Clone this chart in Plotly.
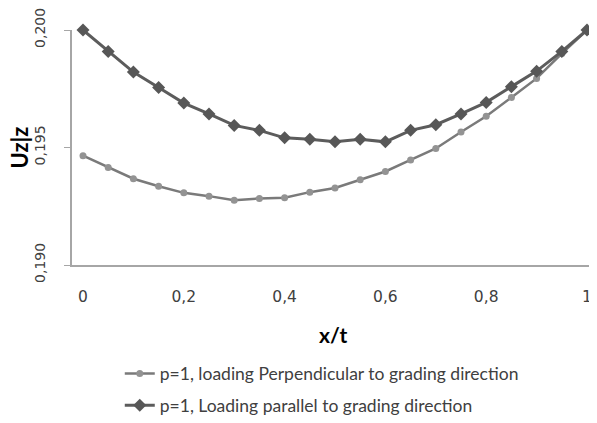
import plotly.graph_objects as go

x_t = [0, 0.05, 0.1, 0.15, 0.2, 0.25, 0.3, 0.35, 0.4, 0.45, 0.5,
       0.55, 0.6, 0.65, 0.7, 0.75, 0.8, 0.85, 0.9, 0.95, 1.0]
perpendicular = [0.19465, 0.19415, 0.19367, 0.19335, 0.19307, 0.19293, 0.19276,
                 0.19283, 0.19286, 0.19310, 0.19328, 0.19363, 0.19398, 0.19447,
                 0.19496, 0.19566, 0.19633, 0.19713, 0.19794, 0.19900, 0.20000]
parallel = [0.20000, 0.19909, 0.19821, 0.19755, 0.19689, 0.19643, 0.19594,
            0.19573, 0.19541, 0.19535, 0.19524, 0.19535, 0.19524, 0.19573,
            0.19597, 0.19643, 0.19692, 0.19759, 0.19825, 0.19909, 0.20000]
x_ticks = [0, 0.2, 0.4, 0.6, 0.8, 1.0]
y_ticks = [0.190, 0.195, 0.200]
name_perp = "p=1, loading Perpendicular to grading direction"
name_par = "p=1, Loading parallel to grading direction"
x_title = "x/t"
y_title = "Uz|z"

FONT = "Lato"
TICKFONT = "DejaVu Sans"
fig = go.Figure()
fig.add_trace(go.Scatter(
    x=x_t, y=perpendicular, mode="lines+markers", name=name_perp,
    line=dict(color="#7a7a7a", width=2.5),
    marker=dict(symbol="circle", size=7, color="#939393"),
    cliponaxis=False, legend="legend"))
fig.add_trace(go.Scatter(
    x=x_t, y=parallel, mode="lines+markers", name=name_par,
    line=dict(color="#5c5c5c", width=3),
    marker=dict(symbol="diamond", size=10, color="#575757"),
    cliponaxis=False, legend="legend2"))

# the page body has an 8px margin, so the figure is drawn offset by 8px
fig.update_layout(
    width=597, height=423,
    margin=dict(l=64, r=8, t=22, b=163),
    paper_bgcolor="white", plot_bgcolor="white",
    separators=",.",
    font=dict(family=FONT, color="#404040"),
    showlegend=True,
    legend=dict(x=0.091, y=-0.462, xanchor="left", yanchor="middle",
                font=dict(size=17.5, family=FONT, color="#404040"),
                bgcolor="rgba(0,0,0,0)"),
    legend2=dict(x=0.091, y=-0.597, xanchor="left", yanchor="middle",
                 font=dict(size=17.5, family=FONT, color="#404040"),
                 bgcolor="rgba(0,0,0,0)"),
    annotations=[
        dict(text="<b>" + x_title + "</b>", xref="paper", yref="paper",
             x=0.497, y=-0.297, xanchor="center", yanchor="middle", showarrow=False,
             font=dict(size=21, family=FONT, color="#000000")),
        dict(text="<b>" + y_title + "</b>", xref="paper", yref="paper",
             x=0, y=0.5, xshift=-53, xanchor="center", yanchor="middle", showarrow=False,
             textangle=-90, font=dict(size=22, family=FONT, color="#000000")),
    ],
)
fig.update_xaxes(
    range=[-11 / 504, 514 / 504], tickvals=x_ticks, automargin=False,
    showline=True, linecolor="#a6a6a6", linewidth=2,
    showgrid=False, zeroline=False, ticks="",
    tickfont=dict(size=15.5, family=TICKFONT, color="#404040"),
    tickangle=0, ticklabeloverflow="allow",
    ticklabelstandoff=16,
)
fig.update_yaxes(
    range=[0.190, 0.200], tickvals=y_ticks, tickformat=".3f", automargin=False,
    showline=True, linecolor="#a6a6a6", linewidth=2,
    showgrid=False, zeroline=False, ticks="outside", ticklen=6, tickcolor="#a6a6a6",
    tickangle=-90, ticklabeloverflow="allow",
    tickfont=dict(size=14, family=TICKFONT, color="#404040"),
    ticklabelstandoff=13,
)
fig.write_html("out.html")
